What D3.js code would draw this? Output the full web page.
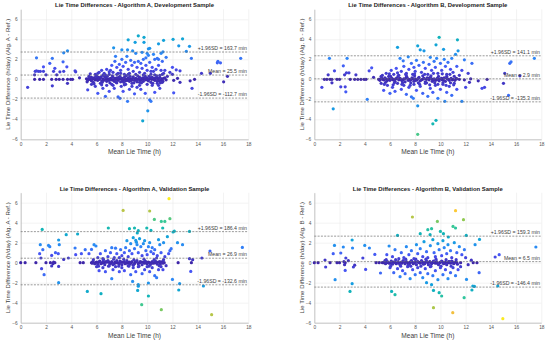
<!DOCTYPE html>
<html>
<head>
<meta charset="utf-8">
<script src="https://cdn.jsdelivr.net/npm/d3@7"></script>
<style>
  body { margin: 0; background: #fff; }
  svg { display: block; font-family: "Liberation Sans", Arial, sans-serif; }
</style>
</head>
<body>
<svg width="550" height="343"></svg>
<script>
const width = 550, height = 343;
const svg = d3.select("svg");

// Titles and labels
const titles = [
    "Lie Time Differences - Algorithm A, Development Sample",
    "Lie Time Differences - Algorithm B, Development Sample",
    "Lie Time Differences - Algorithm A, Validation Sample",
    "Lie Time Differences - Algorithm B, Validation Sample"
];
const yLabels = [
    "Lie Time Difference (h/day) (Alg. A - Ref.)",
    "Lie Time Difference (h/day) (Alg. B - Ref.)",
    "Lie Time Difference (h/day) (Alg. A - Ref.)",
    "Lie Time Difference (h/day) (Alg. B - Ref.)"
];
const xLabel = "Mean Lie Time (h)";

// Limits of agreement (minutes)
const meanMin = [25.5, 2.9, 26.9, 6.5];
const upperMin = [163.7, 141.1, 186.4, 159.3];
const lowerMin = [-112.7, -135.3, -132.6, -146.4];

const xTicks = [0, 2, 4, 6, 8, 10, 12, 14, 16, 18];
const yTicks = [-6, -4, -2, 0, 2, 4, 6];

// [mean lie time (h), difference (h/day)]
const devA = [
    [0.55,-0.8],[1.1,0.45],[1.15,0.8],[1.25,0.85],[1.4,0.8],[1.55,0.8],[1.1,0],[1.5,0],[1.25,2.15],[1.8,1.25],
    [1.8,0.8],[1.8,0],[2.0,0.45],[2.3,1.6],[2.5,2.1],[2.45,0],[2.5,-0.65],[2.6,0.8],[2.7,1.1],[2.85,0.45],
    [2.8,0],[3.05,0],[3.1,0.75],[3.35,1.75],[3.35,0],[3.4,0.8],[3.4,2.65],[3.7,2.85],[3.65,1.25],[3.7,0],
    [3.7,-0.4],[3.95,0],[4.1,0],[4.3,0.85],[4.35,0.75],[4.65,0.15],
    [5.2,0.05],[5.3,-0.1],[5.4,0.1],[5.5,0],[5.6,-0.15],[5.7,0.05],[5.8,0.15],[5.9,-0.05],[6.0,0.1],[6.1,-0.1],
    [6.2,0],[6.3,0.15],[6.4,-0.15],[6.5,0.05],[6.6,-0.05],[6.7,0.2],[6.8,-0.2],[6.9,0.05],[7.0,-0.1],[7.1,0.1],
    [7.2,-0.05],[7.3,0.2],[7.4,-0.2],[7.5,0],[7.6,0.15],[7.7,-0.1],[7.8,0.05],[7.9,-0.25],[8.0,0.1],[8.1,-0.05],
    [8.2,0.2],[8.3,-0.15],[8.4,0],[8.5,0.15],[8.6,-0.2],[8.7,0.05],[8.8,-0.05],[8.9,0.25],[9.0,-0.1],[9.1,0.1],
    [9.2,-0.25],[9.3,0],[9.4,0.2],[9.5,-0.1],[9.6,0.05],[9.7,-0.2],[9.8,0.15],[9.9,-0.05],[10.0,0.1],[10.1,-0.15],
    [10.2,0.05],[10.3,-0.3],[10.4,0.2],[10.5,0],[10.6,-0.1],[10.7,0.15],[10.8,-0.2],[10.9,0.05],[11.0,0.2],[11.1,-0.1],
    [11.3,0.1],[11.5,-0.05],
    [5.35,0.05],[5.55,-0.05],[5.65,0.1],[5.85,0],[6.05,-0.05],[6.25,0.1],[6.55,-0.1],[6.75,0],[6.95,-0.05],[7.15,0.05],
    [7.35,-0.1],[7.45,0.1],[7.65,0],[7.75,0.2],[7.95,0.05],[8.05,-0.15],[8.25,0],[8.45,-0.1],[8.55,0.05],[8.75,-0.1],
    [8.85,0.1],[9.05,0.05],[9.15,-0.1],[9.35,0.1],[9.45,-0.05],[9.65,0.15],[9.75,0],[9.95,0.1],[10.05,-0.05],[10.25,0.15],
    [10.35,0],[10.55,0.1],[10.65,-0.05],[10.85,0.1],[10.95,-0.15],[11.15,0.05],[11.25,-0.2],[11.4,0.15],
    [5.25,-0.25],[5.45,0.2],[5.75,-0.3],[5.95,0.3],[6.15,0.2],[6.45,-0.3],[6.65,0.3],[6.85,0.3],[7.05,-0.35],[7.25,0.35],
    [7.55,-0.3],[7.85,0.3],[8.15,-0.3],[8.35,0.35],[8.65,0.3],[8.95,-0.35],[9.25,0.35],[9.55,-0.35],[9.85,0.3],[10.15,0.3],
    [10.45,-0.4],[10.75,0.35],[11.05,-0.35],
    [5.5,0.55],[5.8,-0.45],[6.1,0.6],[6.4,-0.55],[6.7,0.45],[7.0,0.75],[7.3,-0.6],[7.6,0.5],[7.9,0.6],[8.2,-0.55],
    [8.5,0.5],[8.8,-0.7],[9.1,0.5],[9.4,-0.6],[9.7,0.45],[10.0,-0.5],[10.3,0.8],[10.6,0.45],[10.9,-0.6],[11.2,0.5],
    [5.4,0.3],[5.6,0.2],[5.9,0.5],[6.0,0.35],[6.2,0.7],[6.4,0.9],[6.5,0.4],[6.35,0.25],
    [6.6,0.6],[6.8,1.0],[7.0,0.5],[7.1,0.9],[7.2,1.4],[7.3,0.7],[7.45,1.8],[7.5,2.3],[7.6,1.2],[7.7,0.6],
    [7.8,1.5],[7.9,0.9],[8.0,2.0],[8.1,1.3],[8.2,0.5],[8.3,1.7],[8.4,2.3],[8.5,1.0],[8.6,0.6],[8.7,1.9],
    [8.8,1.4],[8.9,0.8],[9.0,1.7],[9.1,2.6],[9.2,1.2],[9.3,1.8],[9.4,0.7],[9.5,1.6],[9.6,1.1],[9.7,2.0],
    [9.8,0.6],[9.9,1.4],[10.0,0.9],[10.1,2.4],[10.2,1.7],[10.3,0.5],[10.4,1.2],[10.5,0.8],[10.6,2.0],[10.7,1.0],
    [10.8,2.1],[10.9,1.4],[11.0,0.4],[11.1,0.9],[11.2,1.8],[11.3,0.6],[11.4,0.9],[11.6,0.3],
    [7.35,3.15],[8.0,2.95],[8.45,2.95],[8.5,3.95],[9.05,3.7],[8.85,2.85],[9.3,4.35],[9.75,4.2],[9.75,3.7],[10.1,3.05],
    [10.2,3.1],[10.5,2.5],[10.9,3.55],[11.3,3.9],[11.1,2.6],[11.25,2.75],[12.05,4.0],[12.8,4.05],[12.5,3.35],[13.35,3.3],
    [13.1,2.8],[13.5,2.1],[10.0,2.6],[9.6,2.7],[9.9,2.15],[10.9,2.0],[11.5,2.2],[12.0,1.2],
    [11.8,0.7],[12.0,0.5],[12.3,0.95],[12.6,0.85],[12.1,-0.1],[12.4,0.1],[12.1,-1.35],[12.6,-0.3],[13.4,-0.15],[13.55,-0.9],
    [13.75,0],[14.3,0.6],[15.0,0.6],[15.55,1.65],[15.6,1.8],[15.8,1.65],[16.05,-0.25],[16.35,0.3],[17.4,2.1],
    [5.3,-1.05],[5.6,-0.5],[5.9,-0.7],[6.1,-1.4],[6.3,-0.4],[6.5,-0.9],[6.7,-1.7],[6.8,-0.6],[7.0,-1.2],[7.2,-0.5],
    [7.4,-0.9],[7.6,-0.35],[7.7,-1.75],[7.85,-1.9],[7.95,-0.7],[8.1,-1.2],[8.3,-0.5],[8.45,-2.2],[8.6,-1.0],[8.8,-0.4],
    [9.0,-1.45],[9.2,-0.8],[9.4,-0.3],[9.5,-1.0],[9.65,-4.15],[9.85,-1.4],[10.05,-3.15],[10.2,-2.05],[10.3,-2.2],[10.4,-0.6],
    [10.6,-1.3],[10.8,-0.4],[11.0,-0.9],[11.2,-0.3]
];

const devB = [
    [0.6,-0.8],[0.8,0],[1.0,0],[1.1,0.45],[1.25,0],[1.2,2.1],[1.4,0],[1.4,-0.35],[1.6,0.85],[1.5,-2.95],
    [1.8,0],[2.0,0],[2.1,-0.75],[2.3,1.35],[2.4,0.45],[2.45,-0.75],[2.5,-1.25],[2.55,0.65],[2.6,2.1],[2.75,0.65],
    [2.85,0],[3.2,0],[3.3,0.45],[3.45,0],[3.7,0],[3.95,0],[4.2,-2.0],[4.1,0],[4.35,0.85],[4.55,1.15],[4.7,0.2],
    [5.1,0],[5.2,-0.1],[5.35,0.1],[5.5,-0.05],[5.6,0.15],[5.75,-0.15],[5.9,0.05],[6.0,-0.1],[6.15,0.1],[6.3,0],
    [6.4,-0.2],[6.55,0.15],[6.7,-0.05],[6.8,0.1],[6.95,-0.15],[7.1,0.05],[7.2,-0.25],[7.35,0.2],[7.5,0],[7.6,-0.1],
    [7.75,0.15],[7.9,-0.2],[8.0,0.05],[8.15,-0.05],[8.3,0.2],[8.4,-0.15],[8.55,0],[8.7,0.1],[8.8,-0.25],[8.95,0.15],
    [9.1,-0.05],[9.2,0.2],[9.35,-0.2],[9.5,0.05],[9.6,-0.1],[9.75,0.1],[9.9,-0.15],[10.0,0.05],[10.15,-0.05],[10.3,0.15],
    [10.4,-0.2],[10.55,0.05],[10.7,-0.1],[10.85,0.1],[11.0,0],[11.15,-0.1],[11.3,0.05],[11.5,0],
    [5.25,0.05],[5.45,0],[5.65,0.05],[5.85,-0.05],[6.05,0],[6.25,-0.05],[6.45,0.05],[6.6,0.1],[6.85,0],[7.05,-0.05],
    [7.25,0.1],[7.45,-0.1],[7.7,0],[7.85,0.05],[8.05,-0.1],[8.25,0.1],[8.5,-0.05],[8.65,0.05],[8.9,0],[9.05,0.1],
    [9.3,0.05],[9.45,-0.1],[9.7,-0.05],[9.85,0.05],[10.1,0.1],[10.25,-0.1],[10.5,0.1],[10.65,0],[10.95,-0.05],[11.25,0.1],
    [5.3,0.3],[5.65,-0.3],[6.05,0.3],[6.35,-0.35],[6.65,0.35],[7.0,-0.35],[7.3,0.35],[7.65,-0.35],[7.95,0.35],[8.25,-0.35],
    [8.6,0.35],[8.9,-0.35],[9.25,0.35],[9.55,-0.35],[9.85,0.3],[10.2,-0.35],[10.5,0.3],[10.8,-0.35],[11.1,0.3],
    [5.55,-0.5],[5.95,0.55],[6.25,-0.55],[6.6,0.65],[6.95,-0.5],[7.25,0.5],[7.6,-0.6],[7.95,0.55],[8.35,-0.5],[8.75,0.5],
    [9.15,-0.55],[9.45,0.6],[9.8,-0.5],[10.15,0.55],[10.45,-0.6],[10.75,0.5],[11.05,-0.55],
    [5.4,0.4],[5.7,0.6],[5.9,0.3],[6.1,0.9],[6.3,0.5],[6.5,1.1],[6.7,0.4],[6.6,3.2],[6.8,2.1],[6.9,0.8],
    [7.05,1.85],[7.1,1.3],[7.3,0.6],[7.45,2.25],[7.5,1.0],[7.7,1.6],[7.8,0.5],[7.9,1.2],[8.0,0.8],[8.2,3.35],
    [8.1,1.9],[8.3,1.4],[8.4,2.95],[8.5,0.7],[8.7,2.85],[8.65,1.7],[8.8,1.1],[9.0,0.5],[9.1,1.5],[9.2,2.2],
    [9.3,0.9],[9.5,1.8],[9.6,1.2],[9.65,3.45],[9.7,2.1],[9.9,4.2],[9.8,0.6],[10.0,1.6],[10.1,0.9],[10.25,3.0],
    [10.3,2.0],[10.4,1.3],[10.5,0.5],[10.6,1.7],[10.8,1.0],[10.9,2.1],[11.0,0.7],[11.2,2.5],[11.35,3.95],[11.4,2.85],
    [11.3,1.3],[11.5,0.4],[11.9,1.95],[12.5,1.6],[12.2,0.6],[11.7,0.9],
    [5.3,-0.4],[5.5,-1.1],[5.8,-0.6],[6.0,-1.4],[6.2,-0.8],[6.4,-1.2],[6.6,-0.4],[6.9,-1.0],[7.1,-0.6],[7.3,-1.5],
    [7.5,-0.8],[7.7,-1.75],[7.85,-1.9],[7.9,-0.5],[8.1,-1.1],[8.2,-2.65],[8.2,-5.5],[8.4,-0.7],[8.6,-1.4],[8.8,-0.4],
    [9.0,-1.7],[9.2,-0.9],[9.4,-4.45],[9.4,-1.3],[9.6,-0.6],[9.65,-4.1],[9.8,-1.9],[10.0,-1.0],[10.2,-0.5],[10.35,-2.2],
    [10.5,-1.3],[10.7,-0.7],[10.9,-1.6],[11.1,-0.4],[11.3,-1.0],[11.7,-2.2],[12.0,-0.8],[12.3,-0.3],
    [11.9,-0.05],[12.4,0.05],[13.0,-0.15],[13.3,-0.9],[13.5,-0.8],[13.7,0],[15.0,-0.4],[15.1,0.6],[15.4,-1.6],[15.5,1.6],
    [15.6,1.75],[16.3,0.35],[17.45,2.1]
];

const valA = [
    [0.0,0],[0.35,0],[1.2,0],[1.5,0.9],[1.55,1.8],[1.6,0.47],[1.65,-0.6],[1.75,1.3],[1.85,-1.2],[2.0,0],
    [2.2,1.73],[2.3,1.6],[2.35,0],[2.45,-0.33],[2.45,0.73],[2.55,-0.1],[2.6,0.05],[2.7,0],[2.75,1.0],[1.7,3.33],
    [2.97,0.9],[3.0,2.27],[3.05,1.8],[3.0,-0.37],[3.0,-2.0],[3.4,0.33],[3.6,2.8],[3.77,0.47],[4.5,2.87],[4.3,1.47],
    [4.35,0.8],[4.7,0],[4.8,0.9],[4.95,0],[5.1,1.3],[5.27,-2.87],[5.4,0.9],[5.6,1.33],[5.8,1.8],[5.95,1.67],
    [6.35,-3.1],[6.93,3.47],[7.2,-1.6],
    [5.6,0],[5.7,0.1],[5.85,-0.1],[6.0,0.05],[6.1,-0.15],[6.25,0.15],[6.4,-0.05],[6.5,0.1],[6.65,-0.2],[6.8,0.05],
    [6.9,0.2],[7.05,-0.1],[7.2,0.1],[7.3,-0.2],[7.45,0.05],[7.6,0.2],[7.7,-0.05],[7.85,0.15],[8.0,-0.2],[8.1,0.05],
    [8.25,-0.1],[8.4,0.2],[8.5,0],[8.65,-0.15],[8.8,0.1],[8.9,-0.25],[9.05,0.05],[9.2,0.2],[9.3,-0.1],[9.45,0.1],
    [9.6,-0.2],[9.7,0.05],[9.85,0.15],[10.0,-0.1],[10.1,0.05],[10.25,-0.2],[10.4,0.1],[10.5,-0.05],[10.65,0.15],[10.8,-0.15],
    [10.9,0.05],[11.05,-0.1],[11.2,0.1],[11.35,0],
    [5.65,-0.05],[5.9,0],[6.15,0.05],[6.35,-0.1],[6.6,0],[6.75,0.1],[7.0,0.05],[7.15,-0.05],[7.4,-0.1],[7.55,0],
    [7.8,-0.1],[7.95,0.05],[8.2,0.1],[8.35,-0.05],[8.6,0.05],[8.75,0],[9.0,-0.1],[9.15,0.1],[9.4,0],[9.55,0.05],
    [9.8,-0.05],[9.95,0.05],[10.2,0],[10.35,-0.05],[10.6,0],[10.75,0.05],[11.0,0.1],[11.25,-0.05],
    [5.75,0.3],[6.15,-0.35],[6.55,0.3],[6.95,-0.35],[7.35,0.35],[7.75,-0.35],[8.15,0.35],[8.55,-0.35],[8.95,0.3],[9.35,-0.35],
    [9.75,0.35],[10.15,-0.35],[10.55,0.3],[10.95,-0.3],[11.3,0.3],
    [8.1,5.23],[8.6,3.4],[9.0,3.47],[9.22,2.97],[9.3,3.2],[9.1,2.23],[9.15,2.05],[9.3,-2.2],[9.3,-2.35],[8.85,-1.87],
    [9.25,-2.77],[9.57,-4.2],[9.97,3.47],[10.1,-2.03],[10.1,-3.33],[10.2,5.17],[10.3,3.23],[10.57,4.33],[10.75,0.47],[11.12,4.13],
    [11.4,4.13],[11.12,-4.7],[11.23,3.47],[11.73,6.4],[11.8,4.4],[12.05,3.07],[12.15,3.15],[11.9,1.4],[12.0,-1.67],[12.4,2.0],
    [12.45,0],[12.57,-2.1],[12.8,1.8],[12.5,-2.73],[13.35,3.13],[13.35,0.4],[13.5,0],[13.45,-0.87],[13.6,0.3],[14.33,0.47],
    [14.45,-2.33],[14.97,1.17],[15.1,-5.2],[17.53,1.53],
    [6.1,0.5],[6.3,0.9],[6.5,0.4],[6.7,1.2],[6.9,0.6],[7.1,1.0],[7.2,1.5],[7.4,0.5],[7.5,1.45],[7.6,0.9],
    [7.8,0.5],[7.9,1.3],[8.0,0.7],[8.2,1.0],[8.3,1.5],[8.4,2.2],[8.5,0.6],[8.6,1.2],[8.7,1.9],[8.8,0.9],
    [8.9,2.5],[9.0,1.4],[9.2,1.8],[9.3,1.0],[9.4,2.4],[9.5,1.6],[9.6,0.7],[9.7,1.9],[9.8,2.2],[9.9,1.2],
    [10.0,0.8],[10.1,1.6],[10.2,2.0],[10.3,1.1],[10.4,1.5],[10.5,0.9],[10.6,1.3],[10.8,0.7],[10.9,2.3],[11.0,1.8],
    [11.1,1.0],[11.3,2.0],[11.4,0.6],[11.6,2.6],[11.7,0.9],[11.8,1.2],
    [6.0,-0.4],[6.2,-0.8],[6.5,-0.5],[6.7,-0.9],[7.0,-0.3],[7.3,-0.7],[7.5,-0.4],[7.8,-0.9],[8.0,-0.5],[8.2,-0.8],
    [8.5,-0.3],[8.7,-1.2],[8.9,-0.5],[9.1,-0.9],[9.3,-0.4],[9.6,-1.1],[9.8,-0.7],[10.0,-0.4],[10.2,-0.9],[10.4,-0.5],
    [10.6,-1.3],[10.75,-1.5],[10.9,-0.7],[11.1,-0.4],[11.25,-0.7],[11.5,-0.3]
];

const valB = [
    [0,0],[0.3,0],[0.85,0.27],[0.9,-0.43],[1.25,0],[1.5,0.9],[1.6,1.73],[1.65,-1.7],[1.8,0],[2.0,0],
    [2.1,0.97],[2.3,1.57],[2.35,0.1],[2.4,-0.2],[2.45,0],[2.45,-0.77],[2.5,0.47],[2.7,0.2],[2.83,-2.87],[3.0,2.27],
    [3.03,1.47],[3.1,-0.43],[3.0,-2.1],[3.2,-0.25],[3.85,0.47],[4.0,1.73],[4.07,-0.67],[4.37,1.47],[4.8,0.83],[4.9,0],
    [5.15,0],[5.4,0],[5.25,-1.03],[5.6,0.2],[5.75,0.8],[5.93,1.67],[6.13,-2.87],[6.4,-3.2],[6.6,2.73],
    [5.5,0],[5.65,-0.1],[5.8,0.1],[5.95,-0.05],[6.1,0.15],[6.2,-0.15],[6.35,0.05],[6.5,-0.1],[6.65,0.1],[6.8,-0.2],
    [6.9,0.05],[7.05,0.2],[7.2,-0.1],[7.3,0.1],[7.45,-0.25],[7.6,0.05],[7.7,0.2],[7.85,-0.1],[8.0,0.1],[8.1,-0.2],
    [8.25,0.05],[8.4,-0.05],[8.5,0.2],[8.65,-0.15],[8.8,0.05],[8.9,0.15],[9.05,-0.2],[9.2,0.05],[9.3,-0.1],[9.45,0.15],
    [9.6,-0.05],[9.7,0.1],[9.85,-0.2],[10.0,0.05],[10.1,0.15],[10.25,-0.1],[10.4,0.05],[10.5,-0.2],[10.65,0.1],[10.8,-0.05],
    [10.9,0.15],[11.05,-0.1],[11.2,0.05],[11.35,-0.15],[11.6,0],
    [5.6,0.05],[5.85,0],[6.05,-0.05],[6.25,0.05],[6.45,0],[6.7,-0.05],[6.95,-0.05],[7.15,0.05],[7.4,0],[7.55,-0.1],
    [7.75,0.05],[7.95,0],[8.2,0.1],[8.35,0],[8.6,0.05],[8.75,-0.1],[9.0,0],[9.15,0.1],[9.4,0],[9.55,0.05],
    [9.75,-0.05],[9.95,0],[10.2,0.05],[10.35,-0.05],[10.6,0],[10.75,0.1],[11.0,0.05],[11.3,0],
    [5.7,0.3],[6.05,-0.35],[6.45,0.3],[6.85,-0.35],[7.25,0.35],[7.65,-0.35],[8.05,0.35],[8.45,-0.35],[8.85,0.35],[9.25,-0.35],
    [9.65,0.35],[10.05,-0.35],[10.45,0.3],[10.85,-0.35],[11.25,0.3],
    [7.78,4.57],[9.18,2.8],[9.0,3.3],[9.3,3.4],[8.4,2.9],[9.76,4.13],[10.0,3.13],[10.24,2.9],[10.63,2.57],[11.0,3.63],
    [11.2,3.47],[11.2,5.2],[11.83,4.3],[12.05,2.73],[13.1,2.33],[12.75,1.8],
    [8.9,-2.0],[9.3,-2.2],[9.45,-2.77],[9.45,-4.5],[9.9,-3.0],[10.1,-3.33],[10.98,-5.0],[11.88,-3.5],[12.07,-1.67],[12.57,-2.33],
    [12.5,-2.73],[12.7,-2.37],[13.07,-1.0],[14.55,-2.33],[14.95,-5.6],[14.34,0.57],[14.66,0.8],[17.57,1.57],[12.6,0],[12.45,0.25],
    [12.2,-0.2],[12.9,0],
    [6.2,0.6],[6.4,1.3],[6.7,0.4],[6.9,1.0],[7.1,0.5],[7.3,1.6],[7.5,0.8],[7.7,1.2],[7.9,0.4],[8.1,1.8],
    [8.2,0.9],[8.4,1.4],[8.6,0.6],[8.7,2.1],[8.9,1.1],[9.0,0.5],[9.2,1.7],[9.4,2.3],[9.5,1.0],[9.6,0.6],
    [9.8,1.9],[9.9,1.3],[10.1,0.7],[10.2,2.2],[10.3,1.5],[10.5,0.9],[10.6,1.8],[10.8,1.2],[10.9,0.5],[11.1,2.0],
    [11.3,1.0],[11.5,1.6],[11.7,0.8],[11.9,1.3],[12.0,0.5],
    [6.0,-0.5],[6.3,-1.0],[6.6,-0.6],[6.8,-1.4],[7.0,-0.8],[7.2,-1.1],[7.4,-0.4],[7.6,-1.6],[7.8,-0.7],[8.0,-1.2],
    [8.2,-0.5],[8.4,-1.0],[8.6,-1.5],[8.8,-0.6],[9.0,-1.1],[9.2,-0.4],[9.4,-1.3],[9.6,-0.8],[9.8,-1.7],[10.0,-0.5],
    [10.2,-1.2],[10.4,-0.7],[10.6,-1.6],[10.8,-1.0],[11.0,-0.5],[11.2,-1.3],[11.4,-0.7],[11.6,-0.4]
];

const samples = [devA, devB, valA, valB];

// Upper end of the colour scale (|difference| in h) for each panel
const colorMax = [10, 8.5, 6.6, 5.8];

// Panel boxes (plot area in pixels)
const boxes = [
    { left: 20.7, right: 248.3, top: 9.3, bottom: 139.3 },
    { left: 314.3, right: 541.3, top: 9.3, bottom: 139.3 },
    { left: 20.7, right: 248.3, top: 192.7, bottom: 322.7 },
    { left: 314.3, right: 541.3, top: 192.7, bottom: 322.7 }
];

// parula-like colormap
const parula = d3.scaleLinear()
    .domain([0, 0.125, 0.25, 0.375, 0.5, 0.625, 0.75, 0.875, 1])
    .range(["#3e26a8", "#4852f4", "#2d87f7", "#12a0de", "#10b4b8", "#37c897", "#97c94d", "#fdbe3c", "#f9fb15"])
    .clamp(true);

function drawPanel(i) {
    const box = boxes[i];
    const g = svg.append("g");

    const x = d3.scaleLinear().domain([0, 18]).range([box.left, box.right]);
    const y = d3.scaleLinear().domain([-6, 7]).range([box.bottom, box.top]);

    // Grid lines
    g.append("g")
        .attr("transform", `translate(0,${box.bottom})`)
        .call(d3.axisBottom(x).tickValues(xTicks).tickSize(-(box.bottom - box.top)).tickFormat(""))
        .call(a => a.select(".domain").remove())
        .selectAll("line").attr("stroke", "#e6e6e6").attr("stroke-width", 0.5);
    g.append("g")
        .attr("transform", `translate(${box.left},0)`)
        .call(d3.axisLeft(y).tickValues(yTicks).tickSize(-(box.right - box.left)).tickFormat(""))
        .call(a => a.select(".domain").remove())
        .selectAll("line").attr("stroke", "#e6e6e6").attr("stroke-width", 0.5);

    // Axes
    const xAxis = g.append("g")
        .attr("transform", `translate(0,${box.bottom})`)
        .call(d3.axisBottom(x).tickValues(xTicks).tickSize(0).tickPadding(3).tickSizeOuter(0));
    const yAxis = g.append("g")
        .attr("transform", `translate(${box.left},0)`)
        .call(d3.axisLeft(y).tickValues(yTicks).tickSize(0).tickPadding(3).tickSizeOuter(0));
    [xAxis, yAxis].forEach(a => {
        a.select(".domain").attr("stroke", "#a6a6a6").attr("stroke-width", 0.6);
        a.selectAll(".tick text")
            .attr("fill", "#555")
            .style("font-size", "4.8px")
            .style("font-family", "'Liberation Sans', Arial, sans-serif");
    });

    // Points
    const pts = samples[i].slice().sort((a, b) => Math.abs(a[1]) - Math.abs(b[1]));
    g.selectAll(".pt")
        .data(pts)
        .enter().append("circle")
        .attr("cx", d => x(d[0]))
        .attr("cy", d => y(d[1]))
        .attr("r", 1.6)
        .attr("fill", d => parula(Math.abs(d[1]) / colorMax[i]));

    // Mean and limits of agreement
    const lines = [
        { v: upperMin[i], label: `+1.96SD = ${upperMin[i].toFixed(1)} min` },
        { v: meanMin[i], label: `Mean = ${meanMin[i].toFixed(1)} min` },
        { v: lowerMin[i], label: `-1.96SD = ${lowerMin[i].toFixed(1)} min` }
    ];
    lines.forEach(l => {
        const yy = y(l.v / 60);
        g.append("line")
            .attr("x1", box.left).attr("x2", box.right)
            .attr("y1", yy).attr("y2", yy)
            .attr("stroke", "#6e6e6e")
            .attr("stroke-width", 0.7)
            .attr("stroke-dasharray", "2,1.3");
        g.append("text")
            .attr("x", box.right - 1.5)
            .attr("y", yy - 1.8)
            .attr("text-anchor", "end")
            .attr("fill", "#404040")
            .style("font-size", "5.2px")
            .text(l.label);
    });

    // Title
    g.append("text")
        .attr("x", (box.left + box.right) / 2)
        .attr("y", box.top - 2)
        .attr("text-anchor", "middle")
        .attr("fill", "#1a1a1a")
        .style("font-size", "5.9px").style("font-weight", "bold")
        .text(titles[i]);

    // Axis labels
    g.append("text")
        .attr("x", (box.left + box.right) / 2)
        .attr("y", box.bottom + 15)
        .attr("text-anchor", "middle")
        .attr("fill", "#404040")
        .style("font-size", "6.6px")
        .text(xLabel);

    g.append("text")
        .attr("transform", `translate(${box.left - 10.5},${(box.top + box.bottom) / 2}) rotate(-90)`)
        .attr("text-anchor", "middle")
        .attr("fill", "#404040")
        .style("font-size", "6.1px")
        .text(yLabels[i]);
}

[0, 1, 2, 3].forEach(drawPanel);
</script>
</body>
</html>
